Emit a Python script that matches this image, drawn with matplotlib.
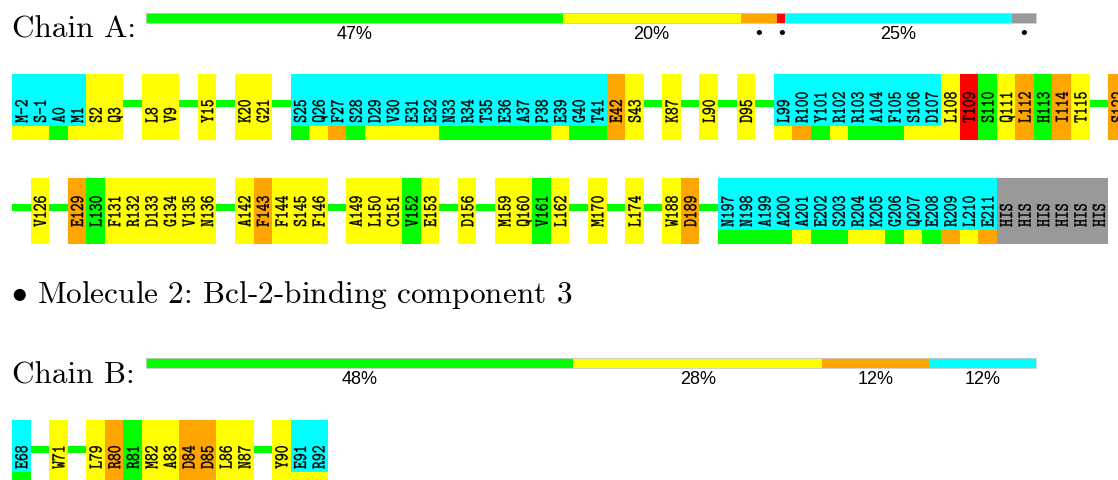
import numpy as np
import matplotlib
matplotlib.use('Agg')
import matplotlib.pyplot as plt
from matplotlib.font_manager import FontProperties
from matplotlib.textpath import TextPath
from matplotlib.patches import PathPatch, Rectangle
from matplotlib.transforms import Affine2D

plt.rcParams['mathtext.fontset'] = 'cm'

COLORS = {'g': '#00ff00', 'y': '#ffff00', 'o': '#ffa500', 'r': '#ff0000',
          'c': '#00ffff', 'x': '#999999'}

# summary bars (residue counts per quality class)
chain_a_counts = [103, 44, 9, 2, 56, 6]
chain_a_codes = ['g', 'y', 'o', 'r', 'c', 'x']
chain_b_counts = [12, 7, 3, 3]
chain_b_codes = ['g', 'y', 'o', 'c']

# residue rows: '' = gap, top colour code, bottom strip code ('-' = gap)
row1_labels = ["M-2", "S-1", "A0", "M1", "S2", "Q3", "", "L8", "V9", "", "Y15", "",
               "K20", "G21", "", "S25", "Q26", "F27", "S28", "D29", "V30", "E31", "E32",
               "N33", "R34", "T35", "E36", "A37", "P38", "E39", "G40", "T41", "E42", "S43",
               "", "K87", "", "L90", "", "D95", "", "L99", "R100", "Y101", "R102", "R103",
               "A104", "F105", "S106", "D107", "L108", "T109", "S110", "Q111", "L112",
               "H113", "I114", "T115", "", "S122"]
row1_top = "ccccyy-yy-y-yy-" + "ccccccccccccccccc" + "oy-y-y-y-" + "ccccccccc" + "yrgyogoy-o"
row1_bottom = "yygy" + "yy-yy-y-yy-" + "gyogyyyyggggggygg" + "oy-y-y-y-" + "yogygggyy" + "yrgyogoy-o"

row2_labels = ["", "V126", "", "E129", "L130", "F131", "R132", "D133", "G134", "V135",
               "N136", "", "A142", "F143", "F144", "S145", "F146", "", "A149", "L150",
               "C151", "V152", "E153", "", "D156", "", "M159", "Q160", "V161", "L162", "",
               "M170", "", "L174", "", "W188", "D189", "", "N197", "N198", "A199", "A200",
               "A201", "E202", "S203", "R204", "K205", "G206", "Q207", "E208", "R209",
               "L210", "E211", "HIS", "HIS", "HIS", "HIS", "HIS", "HIS"]
row2_top = "-y-ogyyyyyy-yoyyy-yyygy-y-yygy-y-y-yo-" + "ccccccccccccccc" + "xxxxxx"
row2_bottom = "-y-ogyyyyyy-yoyyy-yyygy-y-yygy-y-y-yo-" + "ggggyggyygygoyo" + "xxxxxx"

row3_labels = ["E68", "", "W71", "", "L79", "R80", "R81", "M82", "A83", "D84", "D85",
               "L86", "N87", "", "Y90", "E91", "R92"]
row3_top = "c-y-yogyyooyy-ycc"
row3_bottom = "g-y-yogyyooyy-yyy"

W, H = 1118, 481
fig = plt.figure(figsize=(W / 100, H / 100), dpi=100)
ax = fig.add_axes([0, 0, 1, 1])
ax.set_xlim(0, W)
ax.set_ylim(H, 0)
ax.axis('off')

CELL = 18.58
X0 = 12
BOX_H = 66
CYAN_H = 52
LINE_H = 7
BAR_X0, BAR_LEN, BAR_H = 146, 890, 10

mono = FontProperties(family='cmtt10')
adv_em = (TextPath((0, 0), "0" * 11, size=1, prop=mono).get_extents().width
          - TextPath((0, 0), "0", size=1, prop=mono).get_extents().width) / 10
cap_em = TextPath((0, 0), "H", size=1, prop=mono).get_extents().height
ADV, CAP = 7.8, 12.0


def vlabel(cx, ybot, s):
    tp = TextPath((0, 0), s, size=1, prop=mono)
    su, sv = ADV / adv_em, CAP / cap_em
    tr = Affine2D.from_values(0, -su, -sv, 0, cx + CAP / 2, ybot)
    ax.add_patch(PathPatch(tr.transform_path(tp), fc='black', ec='black',
                           lw=0.25, zorder=5))


def summary_bar(top, counts, codes, label):
    total = sum(counts)
    counts = np.array(counts)
    lefts = BAR_X0 + BAR_LEN * np.concatenate([[0], np.cumsum(counts)[:-1]]) / total
    widths = BAR_LEN * counts / total
    ax.barh(top + BAR_H / 2, widths, left=lefts, height=BAR_H,
            color=[COLORS[c] for c in codes], linewidth=0, zorder=2)
    ax.add_patch(Rectangle((BAR_X0, top), BAR_LEN, BAR_H, fill=False,
                           ec='#c8c8c8', lw=0.6, zorder=3))
    for l, w, n in zip(lefts, widths, counts):
        pct = int(round(100 * n / total))
        txt = f"{pct}%" if pct >= 5 else "\u2022"
        ax.text(l + w / 2, top + 20.5, txt, ha='center', va='center',
                fontsize=13 if pct >= 5 else 14, family='Liberation Sans')
    ax.text(12, top + 24, label, fontsize=22.5, family='cmr10', va='baseline')


def residue_row(top, labels, tops, bottoms):
    n = len(labels)
    ax.barh(top + 29.6, n * CELL, left=X0, height=LINE_H, color=COLORS['g'],
            linewidth=0, zorder=1)
    for i, (lab, t, b) in enumerate(zip(labels, tops, bottoms)):
        if t == '-':
            continue
        x = X0 + i * CELL
        ax.bar(x, BOX_H, bottom=top, width=CELL, align='edge', color=COLORS[t],
               linewidth=0, zorder=2)
        if b != t:
            ax.bar(x, BOX_H - CYAN_H, bottom=top + CYAN_H, width=CELL, align='edge',
                   color=COLORS[b], linewidth=0, zorder=3)
        vlabel(x + CELL / 2, top + 48.8, lab)


summary_bar(13.6, chain_a_counts, chain_a_codes, "Chain A:")
residue_row(75, row1_labels, row1_top, row1_bottom)
residue_row(179, row2_labels, row2_top, row2_bottom)

ax.text(11, 303.3, r"$\bullet$ Molecule 2: Bcl-2-binding component 3",
        fontsize=22.5, family='cmr10', va='baseline')

summary_bar(359.3, chain_b_counts, chain_b_codes, "Chain B:")
residue_row(421, row3_labels, row3_top, row3_bottom)

fig.savefig('out.png', dpi=100)
